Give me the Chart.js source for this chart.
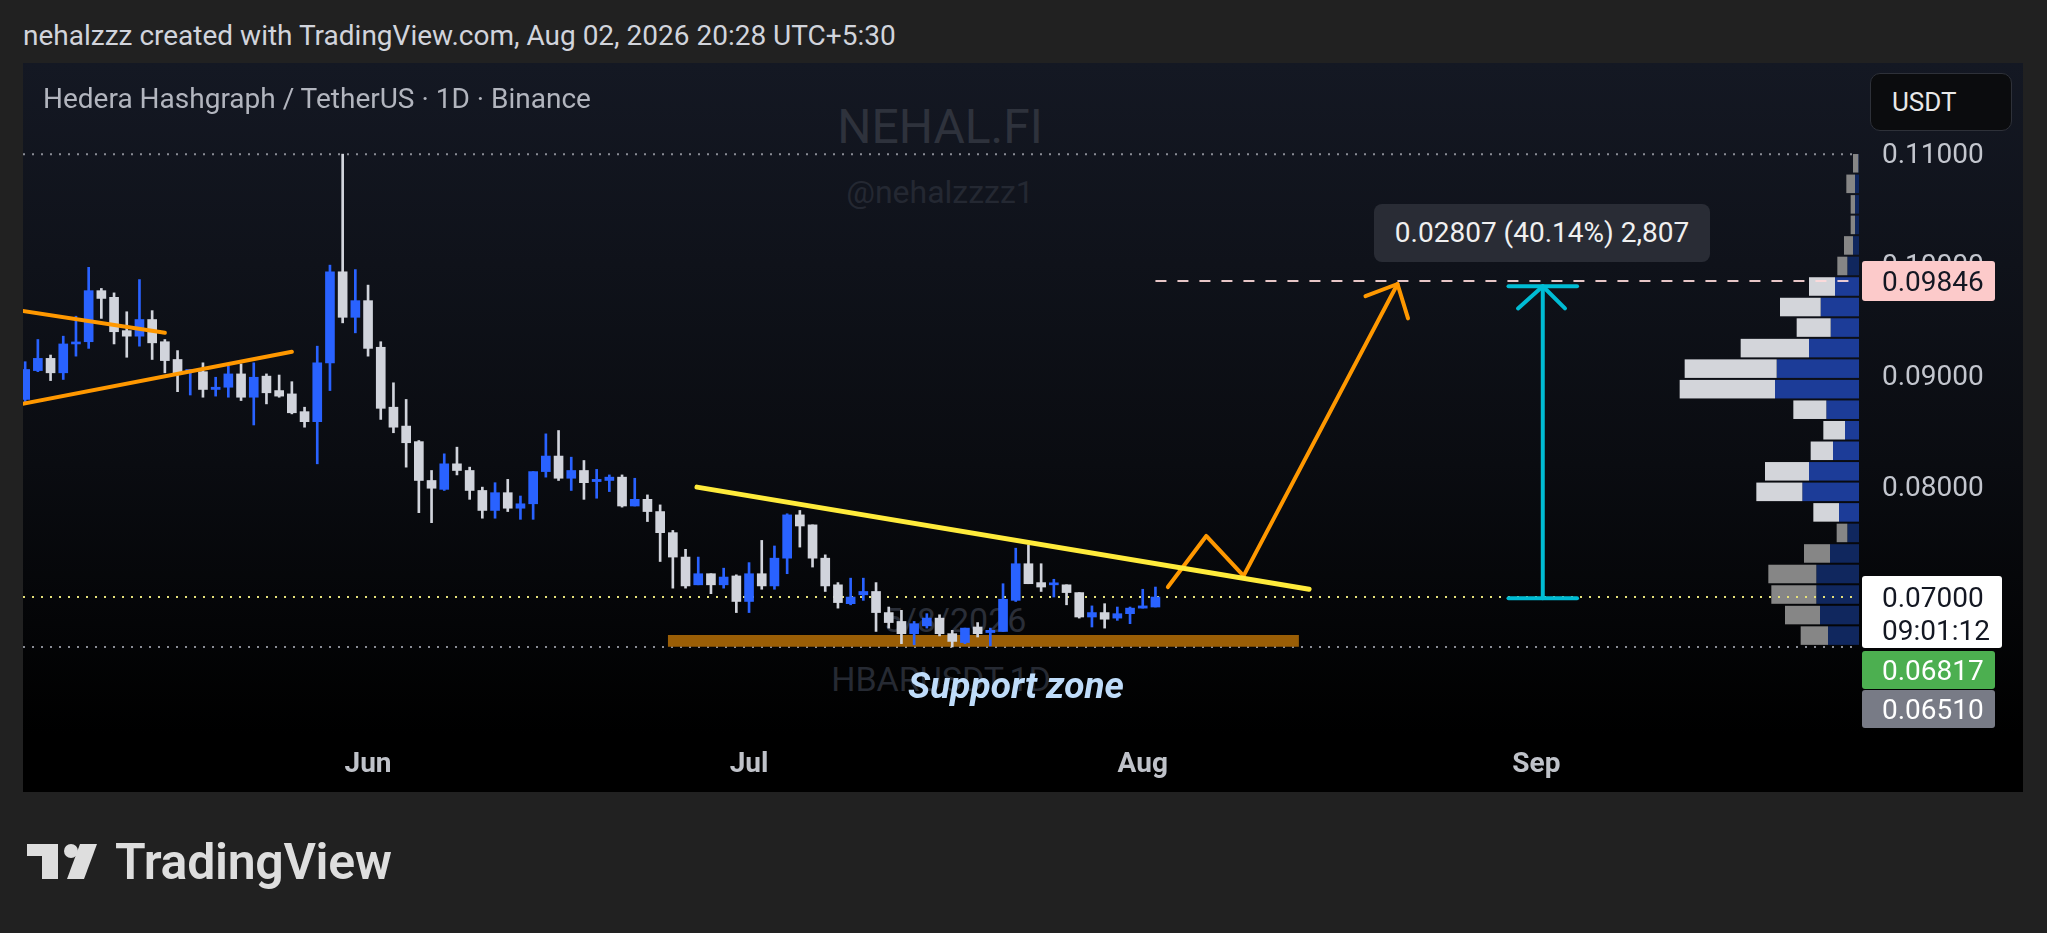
<!DOCTYPE html>
<html>
<head>
<meta charset="utf-8">
<title>HBARUSDT 1D</title>
<script src="https://cdn.jsdelivr.net/npm/chart.js@4.4.1/dist/chart.umd.min.js"></script>
<style>
  html, body { margin: 0; padding: 0; width: 2047px; height: 933px; overflow: hidden; background: #212121; font-family: Roboto, "Noto Sans", sans-serif; }
  .abs { position: absolute; white-space: nowrap; }
  .header { left: 23px; top: 22px; font-size: 28px; line-height: 28px; color: #d1d4dc; }
  .panel { left: 23px; top: 63px; width: 2000px; height: 729px; background: linear-gradient(to bottom, #141823 0%, #0a0c11 55%, #000 92%, #000 100%); }
  .title { left: 43px; top: 85px; font-size: 28px; line-height: 28px; color: #b2b5be; }
  .wm { transform: translate(-50%, -50%); line-height: 1; }
  .usdt { left: 1870px; top: 73px; width: 142px; height: 58px; box-sizing: border-box; border: 1px solid #2e3139; border-radius: 10px; background: #0b0c0e; color: #e8e8e8; font-size: 26px; line-height: 56px; padding-left: 21px; }
  .measure { left: 1374px; top: 204px; width: 336px; height: 58px; border-radius: 8px; background: #292c35; color: #f0f0f0; font-size: 28px; line-height: 58px; text-align: center; }
  .support { left: 1016px; top: 685px; transform: translate(-50%, -50%); font-size: 37px; line-height: 1; font-weight: 700; font-style: italic; color: #bfdcfa; }
  .brand { left: 115px; top: 837px; font-size: 50px; line-height: 50px; font-weight: 600; color: #dedede; letter-spacing: -0.3px; }
  #wrap { position: absolute; left: 23px; top: 63px; width: 2000px; height: 729px; }
</style>
</head>
<body>
<div class="abs header">nehalzzz created with TradingView.com, Aug 02, 2026 20:28 UTC+5:30</div>
<div class="abs panel"></div>
<div class="abs wm" style="left:940px;top:127px;font-size:48px;color:#2e323c;">NEHAL.FI</div>
<div class="abs wm" style="left:940px;top:192px;font-size:32px;color:#242832;">@nehalzzzz1</div>
<div class="abs wm" style="left:955px;top:620px;font-size:34px;color:#2a2e38;">5/8/2026</div>
<div class="abs wm" style="left:941px;top:679px;font-size:34px;color:#262a33;">HBARUSDT.1D</div>
<div id="wrap"><canvas id="chart"></canvas></div>
<div class="abs title">Hedera Hashgraph / TetherUS · 1D · Binance</div>
<div class="abs usdt">USDT</div>
<div class="abs measure">0.02807 (40.14%) 2,807</div>
<div class="abs support">Support zone</div>
<svg class="abs" style="left:27px;top:843px;" width="80" height="40" viewBox="0 0 80 40">
  <path d="M0 1 H31 V36 H15 V13 H0 Z" fill="#dedede"/>
  <circle cx="44" cy="8" r="7" fill="#dedede"/>
  <path d="M53 1 H70 L57 36 H40 Z" fill="#dedede"/>
</svg>
<div class="abs brand">TradingView</div>

<script>
// daily candles, first one is May 5 2026 (days counted from May 1)
var firstDay = 4;
var opens = [
  0.0878, 0.0904, 0.0915, 0.0902, 0.0928, 0.0930, 0.0976, 0.0970, 0.0940, 0.0935,
  0.0950, 0.0930, 0.0914, 0.0903, 0.0903, 0.0887, 0.0889, 0.0901, 0.0880, 0.0899,
  0.0886, 0.0883, 0.0867, 0.0858, 0.0911, 0.0993, 0.0952, 0.0967, 0.0925, 0.0871,
  0.0854, 0.0840, 0.0805, 0.0797, 0.0820, 0.0814, 0.0796, 0.0778, 0.0794, 0.0780,
  0.0784, 0.0813, 0.0827, 0.0807, 0.0814, 0.0804, 0.0805, 0.0808, 0.0782, 0.0788,
  0.0777, 0.0758, 0.0736, 0.0711, 0.0721, 0.0711, 0.0719, 0.0696, 0.0721, 0.0710,
  0.0735, 0.0774, 0.0765, 0.0735, 0.0711, 0.0694, 0.0702, 0.0705, 0.0686, 0.0678,
  0.0667, 0.0674, 0.0681, 0.0667, 0.0659, 0.0673, 0.0668, 0.0669, 0.0697, 0.0730,
  0.0713, 0.0711, 0.0711, 0.0704, 0.0682, 0.0686, 0.0681, 0.0685, 0.0690, 0.0691
];
var highs = [
  0.0912, 0.0932, 0.0918, 0.0935, 0.0953, 0.0997, 0.0978, 0.0974, 0.0957, 0.0986,
  0.0958, 0.0932, 0.0922, 0.0905, 0.0911, 0.0898, 0.0908, 0.0910, 0.0911, 0.0901,
  0.0900, 0.0894, 0.0871, 0.0926, 0.0999, 0.1099, 0.0995, 0.0981, 0.0930, 0.0893,
  0.0878, 0.0841, 0.0814, 0.0829, 0.0835, 0.0817, 0.0799, 0.0803, 0.0806, 0.0791,
  0.0813, 0.0847, 0.0850, 0.0826, 0.0823, 0.0815, 0.0810, 0.0810, 0.0807, 0.0792,
  0.0783, 0.0760, 0.0743, 0.0736, 0.0721, 0.0726, 0.0720, 0.0731, 0.0751, 0.0746,
  0.0775, 0.0778, 0.0765, 0.0738, 0.0713, 0.0717, 0.0717, 0.0713, 0.0691, 0.0688,
  0.0678, 0.0685, 0.0684, 0.0670, 0.0672, 0.0677, 0.0672, 0.0712, 0.0744, 0.0747,
  0.0730, 0.0716, 0.0711, 0.0704, 0.0692, 0.0694, 0.0691, 0.0691, 0.0707, 0.0709
];
var lows = [
  0.0876, 0.0903, 0.0895, 0.0896, 0.0917, 0.0924, 0.0951, 0.0928, 0.0916, 0.0926,
  0.0914, 0.0902, 0.0885, 0.0882, 0.0880, 0.0881, 0.0880, 0.0877, 0.0855, 0.0874,
  0.0880, 0.0865, 0.0853, 0.0820, 0.0886, 0.0947, 0.0938, 0.0917, 0.0860, 0.0848,
  0.0817, 0.0776, 0.0767, 0.0796, 0.0810, 0.0788, 0.0771, 0.0771, 0.0777, 0.0770,
  0.0770, 0.0808, 0.0805, 0.0796, 0.0788, 0.0789, 0.0795, 0.0781, 0.0782, 0.0768,
  0.0732, 0.0708, 0.0708, 0.0711, 0.0703, 0.0708, 0.0686, 0.0686, 0.0707, 0.0707,
  0.0721, 0.0745, 0.0727, 0.0705, 0.0690, 0.0693, 0.0697, 0.0669, 0.0672, 0.0658,
  0.0657, 0.0672, 0.0665, 0.0655, 0.0658, 0.0664, 0.0656, 0.0669, 0.0696, 0.0712,
  0.0705, 0.0700, 0.0693, 0.0681, 0.0673, 0.0672, 0.0679, 0.0676, 0.0690, 0.0691
];
var closes = [
  0.0905, 0.0915, 0.0902, 0.0928, 0.0929, 0.0976, 0.0969, 0.0939, 0.0935, 0.0950,
  0.0929, 0.0913, 0.0902, 0.0905, 0.0887, 0.0889, 0.0901, 0.0880, 0.0898, 0.0884,
  0.0881, 0.0866, 0.0858, 0.0911, 0.0993, 0.0952, 0.0967, 0.0924, 0.0870, 0.0853,
  0.0839, 0.0805, 0.0798, 0.0820, 0.0814, 0.0796, 0.0778, 0.0794, 0.0780, 0.0784,
  0.0813, 0.0827, 0.0807, 0.0814, 0.0803, 0.0806, 0.0808, 0.0782, 0.0788, 0.0777,
  0.0758, 0.0736, 0.0710, 0.0721, 0.0711, 0.0718, 0.0696, 0.0721, 0.0710, 0.0735,
  0.0774, 0.0764, 0.0735, 0.0710, 0.0695, 0.0700, 0.0705, 0.0686, 0.0677, 0.0667,
  0.0676, 0.0681, 0.0667, 0.0660, 0.0672, 0.0667, 0.0670, 0.0698, 0.0730, 0.0712,
  0.0709, 0.0712, 0.0704, 0.0682, 0.0686, 0.0680, 0.0685, 0.0690, 0.0692, 0.0700
];

var monthTicks = [31, 61, 92, 123];
var monthLabels = ['Jun', 'Jul', 'Aug', 'Sep'];
var priceTicks = [0.07, 0.08, 0.09, 0.10, 0.11];

// visible range volume profile, rows from bottom to top
var vpLow = 0.0656, vpHigh = 0.1100;
var vpUp   = [93, 117, 128, 128, 87, 35, 60, 170, 150, 78, 42, 98, 252, 247, 150, 85, 115, 72, 35, 18, 12, 12, 12, 2];
var vpDown = [82, 105, 135, 144, 78, 32, 77, 138, 132, 67, 65, 99, 286, 276, 205, 102, 122, 78, 30, 27, 13, 13, 26, 16];
var vpValueRows = [6, 17];

var rangeHigh = 0.1099, rangeLow = 0.0655, lastPrice = 0.0700;
var targetPrice = 0.09846;
var countdown = '09:01:12';
var sideLabels = ['0.06817', '0.06510'];

// drawings, [day, price]
var upperWedge = [[2, 0.0961], [15, 0.0938]];
var lowerWedge = [[2, 0.0870], [25, 0.0921]];
var downTrend = [[56.9, 0.0799], [105.1, 0.0707]];
var projection = [[93.98, 0.0709], [97.0, 0.0755], [99.94, 0.0719], [112.06, 0.0982]];
var projectionHead = [[109.54, 0.0971], [112.06, 0.0982], [112.89, 0.0951]];
var targetLine = [[93.0, 0.09846], [149, 0.09846]];
var zoneDays = [54.6, 104.3];
var zonePrices = [0.06552, 0.06658];
var measureDay = 123.5, measureCap = [120.8, 126.2], measureFrom = 0.0699, measureTo = 0.0980;
var measureHead = [[121.55, 0.0960], [123.5, 0.0980], [125.25, 0.0960]];

var xMin = 3.83, xMax = 148.4;
var yMin = 0.05739, yMax = 0.11811;

var UP = '#2962ff', DOWN = '#d1d4dc';

function pts(list) {
  return list.map(function(p) { return {x: p[0], y: p[1]}; });
}

function lineSet(list, color, width, dash, order) {
  return {
    type: 'line', data: pts(list), borderColor: color, borderWidth: width,
    borderDash: dash || [], borderCapStyle: dash ? 'butt' : 'round', borderJoinStyle: 'round',
    pointRadius: 0, fill: false, tension: 0, order: order
  };
}

function candleColor(ctx) {
  var i = ctx.dataIndex;
  return closes[i] >= opens[i] ? UP : DOWN;
}

function roundBox(ctx, x, y, w, h, r, color) {
  ctx.beginPath();
  ctx.moveTo(x + r, y);
  ctx.lineTo(x + w - r, y);
  ctx.quadraticCurveTo(x + w, y, x + w, y + r);
  ctx.lineTo(x + w, y + h - r);
  ctx.quadraticCurveTo(x + w, y + h, x + w - r, y + h);
  ctx.lineTo(x + r, y + h);
  ctx.quadraticCurveTo(x, y + h, x, y + h - r);
  ctx.lineTo(x, y + r);
  ctx.quadraticCurveTo(x, y, x + r, y);
  ctx.fillStyle = color;
  ctx.fill();
}

var volumeProfile = {
  id: 'volumeProfile',
  beforeDatasetsDraw: function(chart) {
    var ctx = chart.ctx, y = chart.scales.y, vp = chart.scales.vp;
    var step = (vpHigh - vpLow) / vpUp.length;
    var right = vp.getPixelForValue(0);
    ctx.save();
    vpUp.forEach(function(up, i) {
      var top = y.getPixelForValue(vpLow + (i + 1) * step) + 1;
      var bottom = y.getPixelForValue(vpLow + i * step) - 1;
      var inArea = i >= vpValueRows[0] && i <= vpValueRows[1];
      var xUp = vp.getPixelForValue(up);
      var xAll = vp.getPixelForValue(up + vpDown[i]);
      ctx.fillStyle = inArea ? '#1c3c98' : '#10275e';
      ctx.fillRect(xUp, top, right - xUp, bottom - top);
      ctx.fillStyle = inArea ? '#d3d5da' : '#868686';
      ctx.fillRect(xAll, top, xUp - xAll, bottom - top);
    });
    ctx.restore();
  }
};

var priceLabels = {
  id: 'priceLabels',
  afterDraw: function(chart) {
    var ctx = chart.ctx, y = chart.scales.y, area = chart.chartArea;
    var x0 = area.right + 3, tx = area.right + 23;
    ctx.save();
    ctx.font = '28px Roboto';
    ctx.textBaseline = 'middle';
    ctx.textAlign = 'left';

    var cy = y.getPixelForValue(targetPrice);
    roundBox(ctx, x0, cy - 20, 133, 40, 3, '#fccaca');
    ctx.fillStyle = '#131722';
    ctx.fillText(targetPrice.toFixed(5), tx, cy + 3);

    var top = y.getPixelForValue(lastPrice) - 21;
    roundBox(ctx, x0, top, 140, 72, 3, '#ffffff');
    ctx.fillStyle = '#131722';
    ctx.fillText(lastPrice.toFixed(5), tx, top + 24);
    ctx.fillText(countdown, tx, top + 57);

    var colors = ['#4caf50', '#787b86'];
    var t = top + 75;
    sideLabels.forEach(function(s, i) {
      roundBox(ctx, x0, t, 133, 38, 3, colors[i]);
      ctx.fillStyle = '#ffffff';
      ctx.fillText(s, tx, t + 22);
      t += 39;
    });
    ctx.restore();
  }
};

var wickData = opens.map(function(o, i) { return {x: firstDay + i, y: [lows[i], highs[i]]}; });
var bodyData = opens.map(function(o, i) { return {x: firstDay + i, y: [o, closes[i]]}; });

var datasets = [
  lineSet([[xMin, rangeHigh], [xMax, rangeHigh]], '#8a8d96', 2, [2, 7], 8),
  lineSet([[xMin, rangeLow], [xMax, rangeLow]], '#8a8d96', 2, [2, 7], 8),
  lineSet([[xMin, lastPrice], [xMax, lastPrice]], '#e6e27a', 2, [2, 7], 8),
  {
    type: 'line', data: pts([[zoneDays[0], zonePrices[1]], [zoneDays[1], zonePrices[1]]]),
    borderColor: 'transparent', borderWidth: 1, pointRadius: 0, fill: '+1', backgroundColor: '#9a5e06', order: 6
  },
  {
    type: 'line', data: pts([[zoneDays[0], zonePrices[0]], [zoneDays[1], zonePrices[0]]]),
    borderColor: 'transparent', borderWidth: 1, pointRadius: 0, fill: false, order: 6
  },
  { type: 'bar', data: wickData, backgroundColor: candleColor, barThickness: 2, grouped: false, borderWidth: 0, order: 5 },
  { type: 'bar', data: bodyData, backgroundColor: candleColor, barThickness: 9, minBarLength: 2, grouped: false, borderWidth: 0, order: 4 },
  lineSet(targetLine, 'rgba(255,218,218,0.9)', 2, [11, 11], 3),
  lineSet(upperWedge, '#ff9800', 4, null, 1),
  lineSet(lowerWedge, '#ff9800', 4, null, 1),
  lineSet(downTrend, '#ffeb3b', 5, null, 1),
  lineSet(projection, '#ff9800', 4, null, 1),
  lineSet(projectionHead, '#ff9800', 4, null, 1),
  lineSet([[measureDay, measureFrom], [measureDay, measureTo]], '#00bcd4', 4, null, 1),
  lineSet([[measureCap[0], measureFrom], [measureCap[1], measureFrom]], '#00bcd4', 4, null, 1),
  lineSet([[measureCap[0], measureTo], [measureCap[1], measureTo]], '#00bcd4', 4, null, 1),
  lineSet(measureHead, '#00bcd4', 4, null, 1)
];

new Chart(document.getElementById('chart'), {
  type: 'bar',
  data: { datasets: datasets },
  plugins: [volumeProfile, priceLabels],
  options: {
    responsive: true,
    maintainAspectRatio: false,
    animation: false,
    layout: { padding: 0 },
    plugins: { legend: { display: false }, tooltip: { enabled: false } },
    events: [],
    scales: {
      x: {
        type: 'linear', min: xMin, max: xMax, offset: false,
        grid: { display: false, drawTicks: false }, border: { display: false },
        afterBuildTicks: function(s) { s.ticks = monthTicks.map(function(v) { return {value: v}; }); },
        afterFit: function(s) { s.height = 55; s.paddingLeft = 0; s.paddingRight = 0; },
        ticks: {
          autoSkip: false, maxRotation: 0, padding: 11, color: '#bfc2c9',
          font: { family: 'Roboto', size: 28, weight: '700' },
          callback: function(v) { var i = monthTicks.indexOf(v); return i >= 0 ? monthLabels[i] : ''; }
        }
      },
      y: {
        type: 'linear', position: 'right', min: yMin, max: yMax, offset: false,
        grid: { display: false, drawTicks: false }, border: { display: false },
        afterBuildTicks: function(s) { s.ticks = priceTicks.map(function(v) { return {value: v}; }); },
        afterFit: function(s) { s.width = 164; s.paddingTop = 0; s.paddingBottom = 0; },
        ticks: {
          padding: 23, labelOffset: 3, color: '#c3c6ce',
          font: { family: 'Roboto', size: 28 },
          callback: function(v) { return Number(v).toFixed(5); }
        }
      },
      // volume profile width axis, kept in the layout with zero height
      vp: {
        type: 'linear', position: 'top', reverse: true, min: 0, max: 5508, offset: false,
        grid: { display: false, drawTicks: false }, border: { display: false },
        ticks: { display: false },
        afterFit: function(s) { s.height = 0; s.paddingLeft = 0; s.paddingRight = 0; }
      }
    }
  }
});
</script>
</body>
</html>
